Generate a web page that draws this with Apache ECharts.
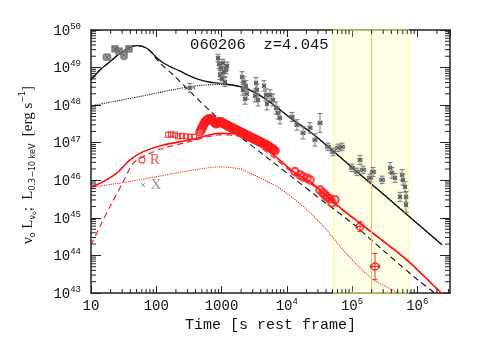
<!DOCTYPE html>
<html><head><meta charset="utf-8">
<script src="https://cdn.jsdelivr.net/npm/echarts@6/dist/echarts.min.js"></script>
<style>html,body{margin:0;padding:0;background:#fff}#c{width:491px;height:360px}</style>
</head><body><div id="c"></div>
<script>
// ---------- DATA (all values given as log10: [log10 t, log10 L]) ----------
const xTickLabels = ['10', '100', '1000', '10^4', '10^5', '10^6'];
const yTickLabels = ['10^43', '10^44', '10^45', '10^46', '10^47', '10^48', '10^49', '10^50'];
const titleLeft = '060206';
const titleRight = 'z=4.045';

// model curves
const blackSolid = [[1.0,48.67],[1.138,48.936],[1.291,49.157],[1.445,49.38],[1.598,49.54],[1.701,49.582],[1.802,49.556],[1.905,49.449],[2.008,49.26],[2.11,49.12],[2.212,49.024],[2.365,48.905],[2.518,48.77],[2.672,48.67],[2.825,48.609],[2.979,48.582],[3.285,48.492],[3.485,48.359],[3.695,48.138],[3.899,47.872],[4.098,47.606],[4.308,47.35],[4.512,47.074],[5.0,46.34],[5.5,45.6],[6.0,44.85],[6.379,44.282]];
const blackDashed = [[1.0,48.67],[1.138,48.936],[1.291,49.157],[1.445,49.38],[1.598,49.54],[1.701,49.582],[1.802,49.556],[1.905,49.44],[2.058,49.12],[2.262,48.803],[2.569,48.271],[3.029,47.519],[3.285,47.162],[3.745,46.543],[4.103,46.056],[4.5,45.52],[5.0,44.86],[5.5,44.1],[6.0,43.36],[6.302,42.95],[6.5,42.65]];
const blackDotted = [[1.0,47.979],[1.751,48.231],[2.517,48.492],[2.977,48.55],[3.283,48.497],[3.485,48.359],[3.695,48.138],[3.899,47.872],[4.098,47.606],[4.308,47.35],[4.512,47.074],[5.0,46.34],[5.5,45.6],[6.0,44.85],[6.379,44.282]];
const redSolid = [[1.0,45.816],[1.189,45.965],[1.394,46.189],[1.598,46.543],[1.802,46.763],[2.109,46.941],[2.518,47.074],[2.979,47.253],[3.334,47.207],[3.793,46.676],[4.1,46.231],[4.356,45.965],[4.765,45.346],[5.122,44.859],[5.838,43.883],[6.346,43.04],[6.5,42.82]];
const redDashed = [[1.0,44.282],[1.138,44.769],[1.291,45.3],[1.495,45.965],[1.649,46.455],[1.854,46.676],[2.109,46.854],[2.518,47.029],[2.979,47.207],[3.334,47.15],[3.793,46.62],[4.1,46.19],[4.356,45.93],[4.765,45.33],[5.122,44.85],[5.838,43.88],[6.346,43.04],[6.5,42.82]];
const redDotted = [[1.0,45.816],[1.495,45.939],[2.008,46.098],[2.518,46.258],[2.979,46.356],[3.285,46.303],[3.439,46.189],[3.848,45.832],[4.256,45.3],[4.589,44.726],[4.819,44.237],[5.075,43.75],[5.33,43.351],[5.663,43.04],[5.816,42.82]];

// grey X-ray points: [log t, log L, half-width dex t, half-width dex L]
const greyEarly = [[1.245,49.28,0.06,0.06],[1.368,49.50,0.04,0.05],[1.429,49.44,0.04,0.05],[1.506,49.33,0.04,0.12],[1.582,49.50,0.04,0.06]];
const greyPts = [[2.517,48.46,0.07,0.12],
 [2.961,49.096,0.02,0.12],[2.992,48.989,0.02,0.12],[3.023,49.122,0.02,0.1],[3.038,48.883,0.02,0.12],[2.977,48.803,0.02,0.12],[3.069,48.936,0.02,0.1],[3.007,48.697,0.02,0.12],[3.053,48.617,0.02,0.12],[3.084,49.043,0.02,0.1],[2.946,49.255,0.02,0.1],
 [3.314,48.75,0.02,0.14],[3.344,48.617,0.02,0.14],[3.375,48.511,0.02,0.14],[3.329,48.404,0.02,0.14],[3.39,48.298,0.02,0.14],[3.36,48.165,0.02,0.14],
 [3.528,48.59,0.02,0.14],[3.544,48.404,0.02,0.16],[3.513,48.245,0.02,0.16],[3.559,48.138,0.02,0.16],
 [3.651,48.511,0.02,0.14],[3.682,48.271,0.02,0.16],[3.697,48.032,0.02,0.16],
 [3.743,48.271,0.02,0.14],[3.789,48.138,0.02,0.16],[3.835,47.926,0.02,0.16],[3.865,47.793,0.02,0.16],[3.896,47.66,0.02,0.16],
 [4.08,47.686,0.03,0.12],[4.157,47.473,0.03,0.14],[4.249,47.26,0.03,0.16],[4.356,47.394,0.03,0.14],[4.432,47.074,0.03,0.16],[4.509,47.527,0.03,0.25],
 [4.632,46.89,0.04,0.1],[4.708,46.755,0.04,0.1],[4.785,46.862,0.04,0.1],[4.846,46.888,0.04,0.1],
 [5.0,46.33,0.04,0.1],[5.076,46.223,0.04,0.1],[5.122,46.543,0.03,0.12],[5.168,46.277,0.04,0.1],[5.275,46.064,0.04,0.1],[5.321,46.223,0.04,0.12],
 [5.459,46.01,0.04,0.1],[5.582,46.33,0.02,0.14],[5.612,46.197,0.02,0.14],[5.658,46.064,0.02,0.12],[5.766,46.144,0.02,0.14],[5.781,46.01,0.02,0.14],[5.812,45.824,0.02,0.14],
 [5.735,45.559,0.02,0.12],[5.827,45.559,0.02,0.14],[5.827,45.346,0.02,0.2]];

// red optical (R band) points
const redSquares = [[2.18,47.207],[2.226,47.22],[2.287,47.207],[2.333,47.167],[2.394,47.18],[2.456,47.167],[2.517,47.154],[2.578,47.154]];
const redCircles = [[2.67,47.287],[2.685,47.34],[2.701,47.394],[2.716,47.45],[2.732,47.5],[2.747,47.545],[2.762,47.58],[2.777,47.6],[2.793,47.62],[2.808,47.63],[2.823,47.633],[2.839,47.62],[2.854,47.606],[2.87,47.58],[2.885,47.553],[2.9,47.53],[2.915,47.5],[2.93,47.52],[2.946,47.54],[2.96,47.55],[2.977,47.553],[2.99,47.55],[3.007,47.54],[3.022,47.52],[3.038,47.5],[3.053,47.487],[3.069,47.473],[3.084,47.46],[3.099,47.447],[3.115,47.433],[3.13,47.42],[3.145,47.407],[3.161,47.394],[3.176,47.38],[3.191,47.367],[3.206,47.353],[3.222,47.34],[3.237,47.327],[3.253,47.314],[3.268,47.3],[3.283,47.287],[3.298,47.274],[3.314,47.261],[3.329,47.247],[3.344,47.234],[3.36,47.22],[3.375,47.207],[3.39,47.194],[3.406,47.181],[3.421,47.168],[3.436,47.154],[3.452,47.141],[3.467,47.128],[3.482,47.115],[3.498,47.101],[3.513,47.088],[3.528,47.074],[3.544,47.061],[3.559,47.048],[3.575,47.035],[3.59,47.021],[3.605,47.008],[3.62,46.995],[3.636,46.981],[3.651,46.968],[3.667,46.955],[3.682,46.941],[3.697,46.928],[3.712,46.915],[3.728,46.895],[3.743,46.875],[3.758,46.855],[3.774,46.835],[3.789,46.822],[3.804,46.809],[3.82,46.782],
 [4.126,46.231],[4.203,46.144],[4.249,46.09],[4.31,46.056],[4.356,46.011],[4.509,45.745],[4.555,45.665],[4.586,45.612],[4.616,45.559],[4.662,45.505],[4.693,45.399],[4.739,45.479]];
const redErr = [[5.122,44.769,0.06,0.13],[5.352,43.705,0.07,0.35]];
// legend-like annotations
const noteR = [[1.782,46.543]];
const noteX = [[1.797,45.878]];
// shaded interval and line
const band = [4.716, 5.867];
const bandLine = 5.294;

// ---------- helpers ----------
const P = v => Math.pow(10, v);
const toXY = a => a.map(p => [P(p[0]), P(p[1])]);
const toErr = a => a.map(p => [P(p[0]), P(p[1]), P(p[0]-p[2]), P(p[0]+p[2]), P(p[1]-p[3]), P(p[1]+p[3])]);
const XMIN = 10, XMAX = 3.17e6, YMIN = 1e43, YMAX = 1e50;
const rt = s => { const m = s.split('^'); return m.length > 1 ? '{b|' + m[0] + '}{s|' + m[1] + '}' : '{b|' + s + '}'; };
const LF = 'Liberation Mono';
const labelRich = { b: { fontFamily: LF, fontSize: 14, color: '#111', lineHeight: 16, verticalAlign: 'bottom' }, s: { fontFamily: LF, fontSize: 9, color: '#111', lineHeight: 16, verticalAlign: 'top' } };

function errRender(color, mcolor, marker) {
  return function (params, api) {
    const t = api.value(0), L = api.value(1);
    const c = api.coord([t, L]);
    const x1 = api.coord([api.value(2), L])[0], x2 = api.coord([api.value(3), L])[0];
    const y1 = api.coord([t, api.value(4)])[1], y2 = api.coord([t, api.value(5)])[1];
    const st = { stroke: color, lineWidth: 1 };
    const ch = [
      { type: 'line', shape: { x1: x1, y1: c[1], x2: x2, y2: c[1] }, style: st },
      { type: 'line', shape: { x1: c[0], y1: y1, x2: c[0], y2: y2 }, style: st },
      { type: 'line', shape: { x1: c[0]-2.5, y1: y1, x2: c[0]+2.5, y2: y1 }, style: st },
      { type: 'line', shape: { x1: c[0]-2.5, y1: y2, x2: c[0]+2.5, y2: y2 }, style: st },
      { type: 'line', shape: { x1: x1, y1: c[1]-2, x2: x1, y2: c[1]+2 }, style: st },
      { type: 'line', shape: { x1: x2, y1: c[1]-2, x2: x2, y2: c[1]+2 }, style: st }
    ];
    const ms = { stroke: mcolor, lineWidth: 1.2, fill: null };
    if (marker === 'x' || marker === 'sq') {
      ch.push({ type: 'line', shape: { x1: c[0]-2, y1: c[1]-2, x2: c[0]+2, y2: c[1]+2 }, style: ms });
      ch.push({ type: 'line', shape: { x1: c[0]-2, y1: c[1]+2, x2: c[0]+2, y2: c[1]-2 }, style: ms });
    }
    if (marker === 'sq') ch.push({ type: 'rect', shape: { x: c[0]-3, y: c[1]-3, width: 6, height: 6 }, style: ms });
    if (marker === 'o') ch.push({ type: 'circle', shape: { cx: c[0], cy: c[1], r: 3.5 }, style: { stroke: mcolor, lineWidth: 1.3, fill: null } });
    return { type: 'group', children: ch };
  };
}

// minor tick positions (log axis: 2..9 x 10^n)
const xMinor = [], yMinor = [];
for (let d = 1; d <= 6; d++) for (let m = 2; m <= 9; m++) if (m * P(d) < XMAX) xMinor.push([m * P(d), YMIN]);
for (let d = 43; d <= 49; d++) for (let m = 2; m <= 9; m++) yMinor.push([XMIN, m * P(d)]);

const chart = echarts.init(document.getElementById('c'), null, { renderer: 'canvas' });
const axisLine = { show: true, lineStyle: { color: '#222', width: 1.5 } };
const line = (data, color, type, width, z) => ({ type: 'line', data: toXY(data), showSymbol: false, smooth: 0.3, silent: true, z: z || 3,
  lineStyle: { color: color, width: width, type: type }, clip: true });

chart.setOption({
  animation: false,
  backgroundColor: '#fff',
  grid: { left: 91, top: 30, width: 359, height: 263, containLabel: false },
  xAxis: [
    { type: 'log', logBase: 10, min: XMIN, max: XMAX, position: 'bottom', axisLine: axisLine,
      axisTick: { inside: true, length: 7, lineStyle: { color: '#222', width: 1 } }, splitLine: { show: false },
      axisLabel: { margin: 4, showMaxLabel: false, formatter: v => { const e = Math.round(Math.log10(v)); return rt(xTickLabels[e - 1] || ''); }, rich: labelRich },
      name: 'Time [s rest frame]', nameLocation: 'middle', nameGap: 18,
      nameTextStyle: { fontFamily: LF, fontSize: 15, color: '#111' } },
    { type: 'log', logBase: 10, min: XMIN, max: XMAX, position: 'top', axisLine: axisLine,
      axisTick: { inside: true, length: 7, lineStyle: { color: '#222', width: 1 } }, axisLabel: { show: false }, splitLine: { show: false } }
  ],
  yAxis: [
    { type: 'log', logBase: 10, min: YMIN, max: YMAX, position: 'left', axisLine: axisLine,
      axisTick: { inside: true, length: 10, lineStyle: { color: '#222', width: 1 } }, splitLine: { show: false },
      axisLabel: { margin: 10, formatter: v => { const e = Math.round(Math.log10(v)); return rt(yTickLabels[e - 43] || ''); }, rich: labelRich } },
    { type: 'log', logBase: 10, min: YMIN, max: YMAX, position: 'right', axisLine: axisLine,
      axisTick: { inside: true, length: 10, lineStyle: { color: '#222', width: 1 } }, axisLabel: { show: false }, splitLine: { show: false } }
  ],
  graphic: [
    { type: 'text', x: 218, y: 45, style: { text: titleLeft, fontFamily: LF, fontSize: 15.5, fill: '#111', align: 'center', verticalAlign: 'middle', textAlign: 'center', textVerticalAlign: 'middle' } },
    { type: 'text', x: 296, y: 45, style: { text: titleRight, fontFamily: LF, fontSize: 15.5, fill: '#111', align: 'center', verticalAlign: 'middle', textAlign: 'center', textVerticalAlign: 'middle' } },
    { type: 'text', x: 28, y: 165, rotation: Math.PI / 2,
      style: { text: '{m|ν}{s|o}{m| L}{s|ν}{ss|o}{m|;  L}{s|0.3−10 keV}{m|  [erg s}{u|−1}{m|]}',
        align: 'center', verticalAlign: 'middle', textAlign: 'center', textVerticalAlign: 'middle',
        rich: {
          m: { fontFamily: 'Liberation Serif', fontSize: 15, fill: '#111', color: '#111', lineHeight: 18, verticalAlign: 'middle' },
          s: { fontFamily: 'DejaVu Sans', fontSize: 8, fill: '#111', color: '#111', lineHeight: 9, verticalAlign: 'bottom' },
          ss: { fontFamily: 'DejaVu Sans', fontSize: 6, fill: '#111', color: '#111', lineHeight: 6, verticalAlign: 'bottom' },
          u: { fontFamily: 'DejaVu Sans', fontSize: 8, fill: '#111', color: '#111', lineHeight: 9, verticalAlign: 'top' }
        } } }
  ],
  series: [
    { type: 'line', data: [], silent: true, z: 1,
      markArea: { silent: true, itemStyle: { color: 'rgba(255,255,150,0.22)', borderColor: '#ffff80', borderWidth: 1 },
        data: [[{ xAxis: P(band[0]) }, { xAxis: P(band[1]) }]] },
      markLine: { silent: true, symbol: 'none', label: { show: false }, lineStyle: { color: '#f5b887', width: 1, type: 'solid' },
        data: [{ xAxis: P(bandLine) }] } },
    line(redDotted, '#ff2020', 'dotted', 1.1),
    line(redDashed, '#ff2020', [6, 4], 1.2),
    line(redSolid, '#ff1010', 'solid', 1.6),
    line(blackDotted, '#111', 'dotted', 1.1),
    line(blackDashed, '#111', [6, 4], 1.1),
    line(blackSolid, '#111', 'solid', 1.3),
    { type: 'custom', data: toErr(greyEarly), renderItem: errRender('#888', '#666', 'sq'), encode: { x: 0, y: 1 }, silent: true, z: 5 },
    { type: 'custom', data: toErr(greyPts), renderItem: errRender('#777', '#555', 'x'), encode: { x: 0, y: 1 }, silent: true, z: 5 },
    { type: 'custom', data: toErr(redErr), renderItem: errRender('#ff2020', '#ff2020', 'o'), encode: { x: 0, y: 1 }, silent: true, z: 6 },
    { type: 'scatter', data: toXY(redSquares), symbol: 'rect', symbolSize: 5, silent: true, z: 6,
      itemStyle: { color: 'rgba(0,0,0,0)', borderColor: '#ff1a1a', borderWidth: 1.2 } },
    { type: 'scatter', data: toXY(redCircles), symbol: 'circle', symbolSize: 7.5, silent: true, z: 6,
      itemStyle: { color: 'rgba(0,0,0,0)', borderColor: '#ff1a1a', borderWidth: 2.2 } },
    { type: 'scatter', data: toXY(noteR), symbol: 'circle', symbolSize: 6, silent: true, z: 6,
      itemStyle: { color: 'rgba(0,0,0,0)', borderColor: '#ff1a1a', borderWidth: 1.2 },
      label: { show: true, position: 'right', distance: 4, formatter: 'R', color: '#ff1a1a', fontFamily: 'Liberation Serif', fontSize: 15 } },
    { type: 'scatter', data: toXY(noteX), symbol: 'path://M0,0L10,10M10,0L0,10', symbolSize: 4, silent: true, z: 6,
      itemStyle: { color: 'rgba(0,0,0,0)', borderColor: '#777', borderWidth: 1 },
      label: { show: true, position: 'right', distance: 5, formatter: 'X', color: '#777', fontFamily: 'Liberation Serif', fontSize: 15 } },
    { type: 'custom', data: xMinor, encode: { x: 0, y: 1 }, silent: true, z: 7, clip: false,
      renderItem: (params, api) => { const t = api.value(0); const b = api.coord([t, YMIN]); const tp = api.coord([t, YMAX]);
        return { type: 'group', children: [
          { type: 'line', shape: { x1: b[0], y1: b[1], x2: b[0], y2: b[1] - 4 }, style: { stroke: '#222', lineWidth: 1 } },
          { type: 'line', shape: { x1: tp[0], y1: tp[1], x2: tp[0], y2: tp[1] + 4 }, style: { stroke: '#222', lineWidth: 1 } } ] }; } },
    { type: 'custom', data: yMinor, encode: { x: 0, y: 1 }, silent: true, z: 7, clip: false,
      renderItem: (params, api) => { const v = api.value(1); const l = api.coord([XMIN, v]); const r = api.coord([XMAX, v]);
        return { type: 'group', children: [
          { type: 'line', shape: { x1: l[0], y1: l[1], x2: l[0] + 5, y2: l[1] }, style: { stroke: '#222', lineWidth: 1 } },
          { type: 'line', shape: { x1: r[0], y1: r[1], x2: r[0] - 5, y2: r[1] }, style: { stroke: '#222', lineWidth: 1 } } ] }; } }
  ]
});
</script></body></html>
